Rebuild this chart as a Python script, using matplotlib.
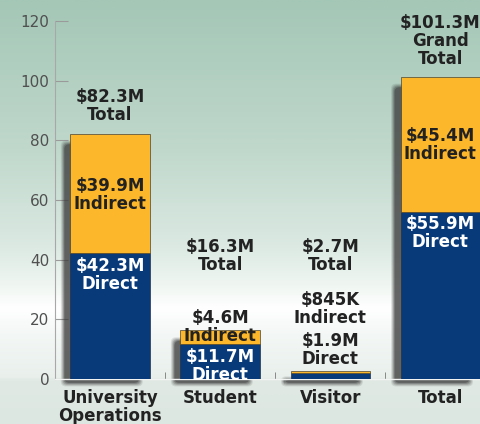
import numpy as np
import matplotlib.pyplot as plt
from matplotlib.colors import LinearSegmentedColormap
from matplotlib.patches import FancyBboxPatch

categories = ['University\nOperations', 'Student', 'Visitor', 'Total']
direct = [42.3, 11.7, 1.9, 55.9]
indirect = [39.9, 4.6, 0.845, 45.4]
total_labels = ['$82.3M\nTotal', '$16.3M\nTotal', '$2.7M\nTotal', '$101.3M\nGrand\nTotal']
indirect_labels = ['$39.9M\nIndirect', '$4.6M\nIndirect', '$845K\nIndirect', '$45.4M\nIndirect']
direct_labels = ['$42.3M\nDirect', '$11.7M\nDirect', '$1.9M\nDirect', '$55.9M\nDirect']

# label layout (data y of label centre)
total_y = [91.6, 41.3, 41.3, 113.4]
ind_y = [61.7, 17.3, 23.5, 78.5]
dir_y = [35.0, 4.4, 9.6, 49.0]
dir_col = ['white', 'white', '#222222', 'white']

NAVY = '#083a7a'
GOLD = '#fdb72a'
TXT = '#222222'

fig = plt.figure(figsize=(4.81, 4.24), dpi=100)

# gradient background
bg = fig.add_axes([0, 0, 1, 1], zorder=0)
cmap = LinearSegmentedColormap.from_list('bg', [
    (0.0, '#a4c7b6'), (0.35, '#c0d8cc'), (0.58, '#dbe9e2'),
    (0.68, '#f1f7f3'), (0.73, '#ffffff'), (0.79, '#f3f7f5'),
    (0.893, '#e9f0ec'), (0.90, '#e0e9e4'), (1.0, '#dde7e2')])
bg.imshow(np.linspace(0, 1, 400).reshape(-1, 1), aspect='auto', cmap=cmap,
          extent=[0, 1, 0, 1], origin='upper')
bg.axis('off')

ax = fig.add_axes([55 / 481, 45 / 424, 426 / 481, 358 / 424], zorder=1)
ax.patch.set_alpha(0)
x = np.arange(len(categories))
w = 0.72
tops = [d + i for d, i in zip(direct, indirect)]

# soft shadows behind bars
for xi, t in zip(x, tops):
    top = max(t - 3.5, -0.3)
    for k, a in enumerate([0.12, 0.16, 0.22, 0.30, 0.45]):
        grow = (4 - k) * 0.008
        p = FancyBboxPatch((xi - w / 2 - 0.055 - grow, -1.3 - grow * 37),
                           w - 0.04 + 2 * grow, top + 1.3 + 2 * grow * 37,
                           boxstyle='round,pad=0,rounding_size=0.045',
                           mutation_aspect=37, facecolor='#3c3c3c',
                           edgecolor='none', alpha=a, zorder=2, clip_on=False)
        ax.add_patch(p)

ax.bar(x, direct, width=w, color=NAVY, edgecolor='#23324a', linewidth=0.5, zorder=3)
ax.bar(x, indirect, width=w, bottom=direct, color=GOLD, edgecolor='#4a4430',
       linewidth=0.5, zorder=3)

for i in range(len(categories)):
    ax.text(x[i], total_y[i], total_labels[i], ha='center', va='center',
            fontsize=12, fontweight='bold', color=TXT, linespacing=1.0, zorder=5)
    ax.text(x[i], ind_y[i], indirect_labels[i], ha='center', va='center',
            fontsize=12, fontweight='bold', color=TXT, linespacing=1.0, zorder=5)
    ax.text(x[i], dir_y[i], direct_labels[i], ha='center', va='center',
            fontsize=12, fontweight='bold', color=dir_col[i], linespacing=1.0,
            zorder=5, clip_on=False)

ax.set_xlim(-0.5, 3.37)
ax.set_ylim(0, 120)
ax.set_yticks(range(0, 121, 20))
ax.set_xticks(x)
ax.set_xticklabels(categories, fontsize=12, fontweight='bold', color=TXT,
                   linespacing=1.0)
ax.set_xticks([0.5, 1.5, 2.5], minor=True)
ax.tick_params(axis='x', which='major', length=0, pad=7)
ax.tick_params(axis='x', which='minor', direction='in', length=5, color='#777777')
ax.tick_params(axis='y', direction='in', length=9, color='#9a9a9a',
               labelsize=11, labelcolor='#505050', pad=4)

for s in ['top', 'right']:
    ax.spines[s].set_visible(False)
ax.spines['left'].set_color('#a8a8a8')
ax.spines['left'].set_linewidth(0.8)
ax.spines['bottom'].set_color('#f2f4f3')
ax.spines['bottom'].set_linewidth(1.0)

fig.savefig('out.png', dpi=100)
